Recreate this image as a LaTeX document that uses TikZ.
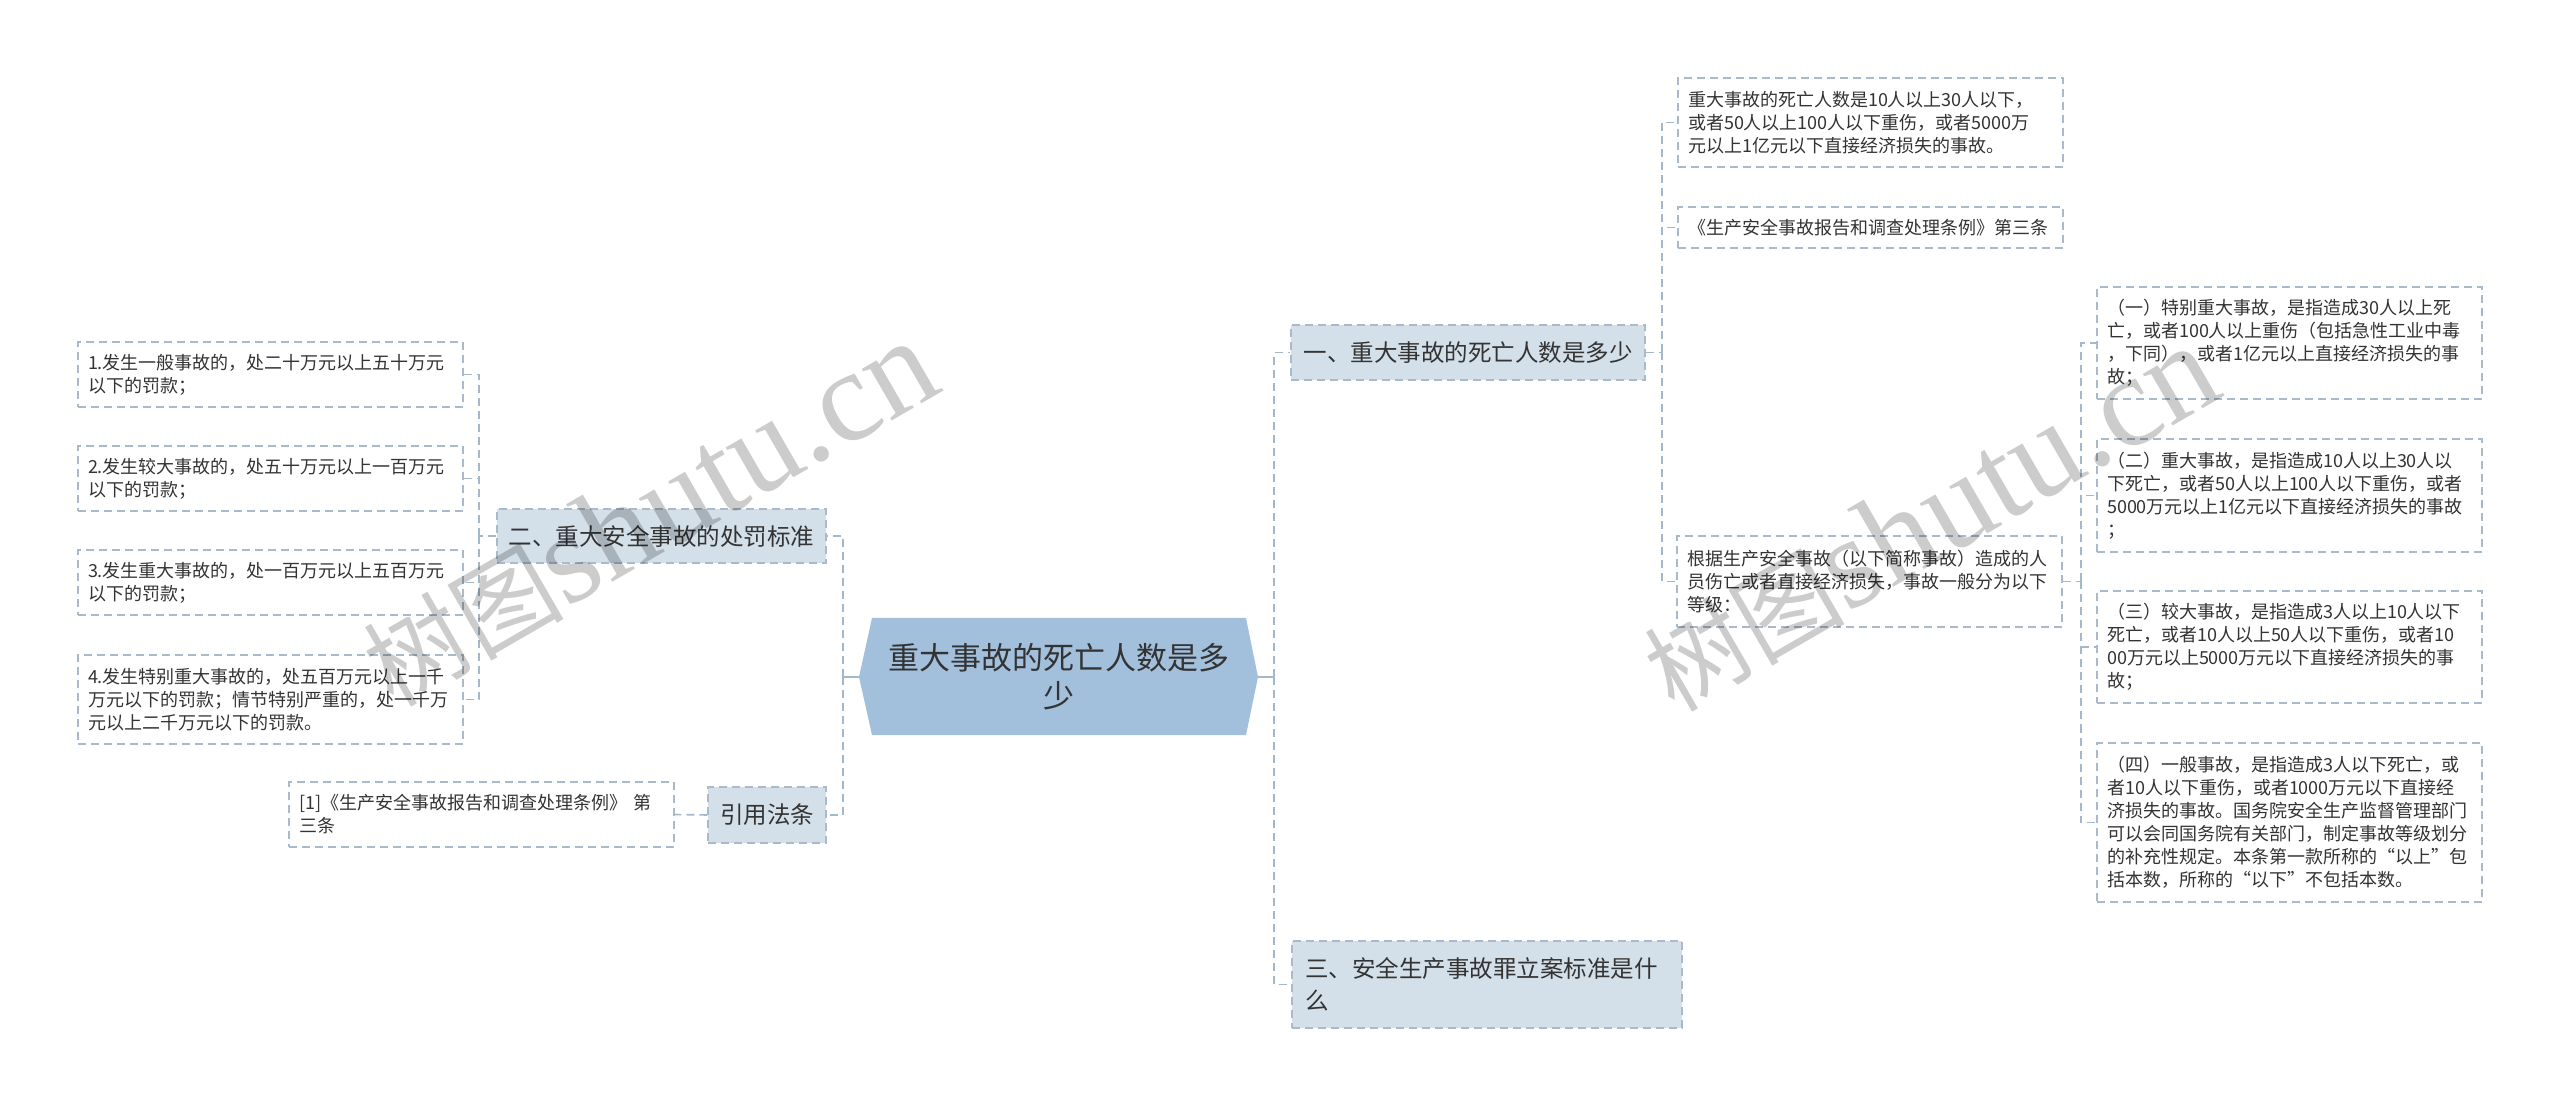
\documentclass[tikz,border=0pt]{standalone}
\usepackage{fontspec}
\setmainfont{Noto Sans CJK SC}
\newfontfamily\wmfont{Liberation Serif}
\definecolor{lineC}{HTML}{A3B8CB}
\definecolor{bordC}{HTML}{A9BACA}
\definecolor{lvlfill}{HTML}{D3DFE9}
\definecolor{rootfill}{HTML}{A2BFDC}
\definecolor{txtC}{HTML}{333333}
\tikzset{
 conn/.style={draw=lineC, line width=0.8pt, dash pattern=on 4pt off 2.5pt},
 rootconn/.style={draw=lineC, line width=1.2pt},
 leaf/.style={draw=bordC, line width=0.7pt, dash pattern=on 4pt off 2.5pt, fill=white, text=txtC, inner sep=0pt, font=\fontsize{9pt}{11.5pt}\selectfont, align=left, minimum width=192.5pt, text width=182.5pt},
 lvl/.style={draw=bordC, line width=0.7pt, dash pattern=on 4pt off 2.5pt, fill=lvlfill, text=txtC, inner sep=0pt, font=\fontsize{11.75pt}{16pt}\selectfont, align=center},
 wmark/.style={rotate=30, text=black, text opacity=0.2, inner sep=0pt},
}
\begin{document}
\begin{tikzpicture}[x=0.5pt,y=-0.5pt]
\useasboundingbox (0,0) rectangle (2560,1106);
% root
\fill[rootfill] (859,677) -- (872,618) -- (1246,618) -- (1258,677) -- (1246,735) -- (872,735) -- cycle;
\node[text=txtC, font=\fontsize{15.5pt}{19pt}\selectfont, align=center] (root) at (1058.5,676.5) {重大事故的死亡人数是多\\少};
\coordinate (rootW) at (859,677);
\coordinate (rootE) at (1258,677);
\coordinate (bL) at (843,677);
\coordinate (bR) at (1274,677);
% level 1
\node[lvl, minimum width=164.5pt, minimum height=27pt] (n2) at (661.5,536) {二、重大安全事故的处罚标准};
\node[lvl, minimum width=59pt, minimum height=28pt] (cite) at (767,815) {引用法条};
\node[lvl, minimum width=177pt, minimum height=27.5pt] (n1) at (1468,352.5) {一、重大事故的死亡人数是多少};
\node[lvl, minimum width=195pt, minimum height=43.5pt, text width=182pt, align=left] (n3) at (1487,984.5) {三、安全生产事故罪立案标准是什\\么};
% left leaves
\node[leaf, minimum height=32.5pt] (l1) at (270.5,374.5) {1.发生一般事故的，处二十万元以上五十万元\\以下的罚款；};
\node[leaf, minimum height=32.5pt] (l2) at (270.5,478.5) {2.发生较大事故的，处五十万元以上一百万元\\以下的罚款；};
\node[leaf, minimum height=32.5pt] (l3) at (270.5,582.5) {3.发生重大事故的，处一百万元以上五百万元\\以下的罚款；};
\node[leaf, minimum height=44.5pt] (l4) at (270.5,699.5) {4.发生特别重大事故的，处五百万元以上一千\\万元以下的罚款；情节特别严重的，处一千万\\元以上二千万元以下的罚款。};
\node[leaf, minimum height=32.5pt] (rf) at (481.5,814.5) {[1]《生产安全事故报告和调查处理条例》 第\\三条};
% right leaves
\node[leaf, minimum height=44.5pt] (r1) at (1870.5,122.5) {重大事故的死亡人数是10人以上30人以下，\\或者50人以上100人以下重伤，或者5000万\\元以上1亿元以下直接经济损失的事故。};
\node[leaf, minimum height=20.5pt] (r2) at (1870.5,227.5) {《生产安全事故报告和调查处理条例》第三条};
\node[leaf, minimum height=45.5pt] (r3) at (1869.5,581.5) {根据生产安全事故（以下简称事故）造成的人\\员伤亡或者直接经济损失，事故一般分为以下\\等级：};
\node[leaf, minimum height=56pt] (s1) at (2289.5,343) {（一）特别重大事故，是指造成30人以上死\\亡，或者100人以上重伤（包括急性工业中毒\\，下同），或者1亿元以上直接经济损失的事\\故；};
\node[leaf, minimum height=56.5pt] (s2) at (2289.5,495.5) {（二）重大事故，是指造成10人以上30人以\\下死亡，或者50人以上100人以下重伤，或者\\5000万元以上1亿元以下直接经济损失的事故\\；};
\node[leaf, minimum height=56pt] (s3) at (2289.5,647) {（三）较大事故，是指造成3人以上10人以下\\死亡，或者10人以上50人以下重伤，或者10\\00万元以上5000万元以下直接经济损失的事\\故；};
\node[leaf, minimum height=79.5pt] (s4) at (2289.5,822.5) {（四）一般事故，是指造成3人以下死亡，或\\者10人以下重伤，或者1000万元以下直接经\\济损失的事故。国务院安全生产监督管理部门\\可以会同国务院有关部门，制定事故等级划分\\的补充性规定。本条第一款所称的“以上”包\\括本数，所称的“以下”不包括本数。};
% bracket points
\coordinate (b2) at (479,536);
\coordinate (b1) at (1662,352.5);
\coordinate (b3) at (2081,581.5);
% connectors
\draw[rootconn] (rootW) -- (bL);
\draw[conn] (bL) |- (n2.east);
\draw[conn] (bL) |- (cite.east);
\draw[rootconn] (rootE) -- (bR);
\draw[conn] (bR) |- (n1.west);
\draw[conn] (bR) |- (n3.west);
\draw[conn] (n2.west) -- (b2);
\draw[conn] (b2) |- (l1.east);
\draw[conn] (b2) |- (l2.east);
\draw[conn] (b2) |- (l3.east);
\draw[conn] (b2) |- (l4.east);
\draw[conn] (cite.west) -- (rf.east);
\draw[conn] (n1.east) -- (b1);
\draw[conn] (b1) |- (r1.west);
\draw[conn] (b1) |- (r2.west);
\draw[conn] (b1) |- (r3.west);
\draw[conn] (r3.east) -- (b3);
\draw[conn] (b3) |- (s1.west);
\draw[conn] (b3) |- (s2.west);
\draw[conn] (b3) |- (s3.west);
\draw[conn] (b3) |- (s4.west);
% watermarks
\node[wmark] (wm1) at (649,514) {\fontsize{50pt}{50pt}\selectfont 树图{\wmfont\fontsize{65pt}{65pt}\selectfont shutu.cn}};
\node[wmark] (wm2) at (1930,519) {\fontsize{50pt}{50pt}\selectfont 树图{\wmfont\fontsize{65pt}{65pt}\selectfont shutu.cn}};
\end{tikzpicture}
\end{document}
